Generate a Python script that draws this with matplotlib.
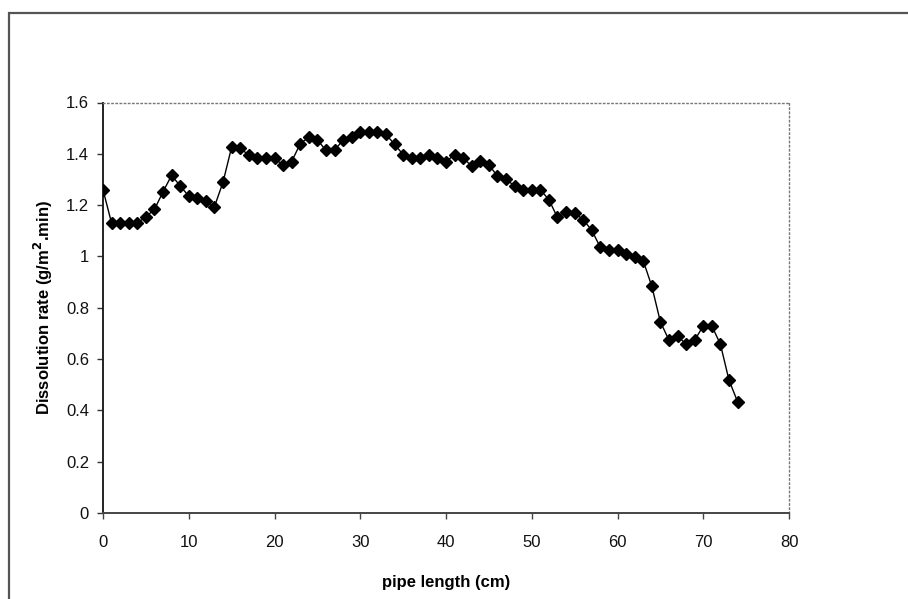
import matplotlib
matplotlib.use("Agg")
import matplotlib.pyplot as plt
from matplotlib.patches import Rectangle

# Dissolution rate measured along the pipe
pipe_length_cm = list(range(0, 75))
dissolution_rate = [
    1.26, 1.13, 1.13, 1.13, 1.13, 1.155, 1.183, 1.252, 1.316, 1.275,
    1.235, 1.226, 1.215, 1.194, 1.29, 1.426, 1.423, 1.394, 1.383, 1.383,
    1.383, 1.355, 1.37, 1.439, 1.465, 1.455, 1.413, 1.413, 1.455, 1.465,
    1.485, 1.486, 1.485, 1.476, 1.437, 1.397, 1.384, 1.382, 1.397, 1.382,
    1.369, 1.397, 1.384, 1.352, 1.371, 1.358, 1.312, 1.303, 1.273, 1.26,
    1.26, 1.26, 1.221, 1.152, 1.172, 1.17, 1.143, 1.102, 1.035, 1.025,
    1.025, 1.009, 0.996, 0.983, 0.884, 0.745, 0.674, 0.69, 0.658, 0.674,
    0.729, 0.729, 0.658, 0.518, 0.434,
]

x_ticks = [0, 10, 20, 30, 40, 50, 60, 70, 80]
y_ticks = [0, 0.2, 0.4, 0.6, 0.8, 1.0, 1.2, 1.4, 1.6]
y_tick_labels = ["0", "0.2", "0.4", "0.6", "0.8", "1", "1.2", "1.4", "1.6"]

plt.rcParams["font.family"] = ["Liberation Sans", "DejaVu Sans"]

fig = plt.figure(figsize=(9.08, 5.99), dpi=100)
fig.patch.set_facecolor("white")

# outer chart frame (top and left edges visible)
frame = Rectangle((9 / 908, -0.05), 1.2, (599 - 13) / 599 + 0.05,
                  transform=fig.transFigure, fill=False,
                  edgecolor="#555555", linewidth=1.6)
fig.patches.append(frame)

ax = fig.add_axes([103 / 908, 86 / 599, 686 / 908, 410.5 / 599])

ax.plot(pipe_length_cm, dissolution_rate, color="black", linewidth=1.0,
        marker="D", markersize=6, markerfacecolor="black",
        markeredgecolor="black", zorder=3)

ax.set_xlim(0, 80)
ax.set_ylim(0, 1.6)
ax.set_xticks(x_ticks)
ax.set_yticks(y_ticks)
ax.set_yticklabels(y_tick_labels)

for side in ("top", "right"):
    ax.spines[side].set_linestyle((0, (1, 2)))
    ax.spines[side].set_color("#777777")
    ax.spines[side].set_linewidth(1.0)
ax.spines["left"].set_color("#222222")
ax.spines["left"].set_linewidth(1.4)
ax.spines["bottom"].set_color("#444444")
ax.spines["bottom"].set_linewidth(1.4)

ax.tick_params(axis="y", direction="out", length=4, width=1, color="#333333",
               labelsize=12, pad=6, labelcolor="#111111")
ax.tick_params(axis="x", direction="out", length=4, width=1, color="#444444",
               labelsize=12, pad=12, labelcolor="#111111")

ax.set_xlabel("pipe length (cm)", fontsize=12, fontweight="bold", labelpad=18)
ax.set_ylabel("Dissolution rate (g/m$^\\mathbf{2}$.min)", fontsize=12,
              fontweight="bold", labelpad=8)

fig.savefig("out.png", dpi=100, facecolor="white")
